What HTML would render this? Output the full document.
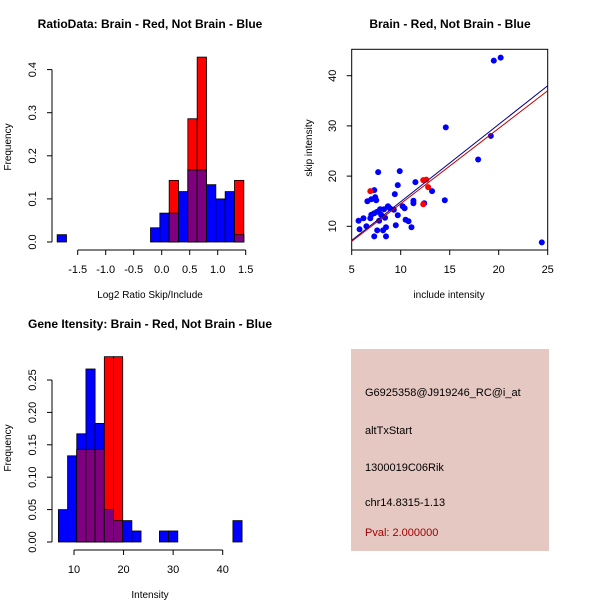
<!DOCTYPE html>
<html><head><meta charset="utf-8"><style>
html,body{margin:0;padding:0;background:#fff;}
svg{display:block;font-family:"Liberation Sans",sans-serif;}
</style></head><body>
<svg id="s" width="600" height="600" viewBox="0 0 600 600">
<rect x="0" y="0" width="600" height="600" fill="#fff"/>
<g id="p1"></g>
<g id="p2"></g>
<g id="p3"></g>
<g id="p4">
<rect x="351" y="349" width="198" height="202" fill="#e6c8c2"/>
<text x="365" y="396" font-size="11" fill="#000">G6925358@J919246_RC@i_at</text>
<text x="365" y="434" font-size="11" fill="#000">altTxStart</text>
<text x="365" y="471" font-size="11" fill="#000">1300019C06Rik</text>
<text x="365" y="506" font-size="11" fill="#000">chr14.8315-1.13</text>
<text x="365" y="536" font-size="11" fill="#a00000">Pval: 2.000000</text>
</g>
</svg>
<script>
// ---- Plot 1 data ----
const p1Start = -1.8667;
const p1Width = 1/6;
const p1Blue = [0.017,0,0,0,0,0,0,0,0,0,0.033,0.067,0.067,0.117,0.167,0.167,0.133,0.1,0.117,0.017];
const p1Red  = [0,0,0,0,0,0,0,0,0,0,0,0,0.143,0,0.286,0.429,0,0,0,0.143];
const p1XTicks = [-1.5,-1.0,-0.5,0.0,0.5,1.0,1.5];
const p1YTicks = [0.0,0.1,0.2,0.3,0.4];
// ---- Plot 2 data ----
const p2BlueX = [5.7,5.8,6.2,6.5,6.6,6.9,7.0,7.0,7.3,7.3,7.3,7.4,7.5,7.6,7.6,7.7,7.8,8.0,8.2,8.3,8.4,8.5,8.5,8.7,8.9,9.3,9.4,9.5,9.7,9.7,9.9,10.2,10.4,10.5,10.8,11.1,11.3,11.3,11.5,12.4,13.2,14.5,14.6,17.9,19.2,19.5,20.2,24.4,7.9];
const p2BlueY = [11.1,9.4,11.6,10,15,11.6,15.4,12.3,12.6,17.2,8,15.8,15.2,12.9,9.2,20.8,11.1,12.3,9.2,13.4,11.7,8,9.8,14,13.6,13.3,16.4,10.2,18.2,12.2,21,14,13.6,11.3,11,9.8,15.1,14.6,18.8,14.6,17,15.2,29.7,23.3,28,43,43.6,6.8,13.4];
const p2RedX = [6.9,12.3,12.6,12.8,12.3];
const p2RedY = [17,19.2,19.3,17.8,14.4];
const p2BlueFit = [5,7.2,25,38];
const p2RedFit = [5,7.0,25,37];
const p2XTicks = [5,10,15,20,25];
const p2YTicks = [10,20,30,40];
// ---- Plot 3 data ----
const p3Start = 6.85;
const p3Width = 1.853;
const p3Blue = [0.05,0.133,0.167,0.267,0.183,0.05,0.033,0.033,0.017,0,0,0.017,0.017,0,0,0,0,0,0,0.033];
const p3Red  = [0,0,0.143,0.143,0.143,0.286,0.286,0,0,0,0,0,0,0,0,0,0,0,0,0];
const p3XTicks = [10,20,30,40];
const p3YTicks = [0.00,0.05,0.10,0.15,0.20,0.25];

const NS='http://www.w3.org/2000/svg';
function mk(parent,tag,attrs){const e=document.createElementNS(NS,tag);for(const k in attrs)e.setAttribute(k,attrs[k]);parent.appendChild(e);return e;}
function txt(parent,x,y,s,size,extra){const t=mk(parent,'text',Object.assign({x:x,y:y,'font-size':size,'text-anchor':'middle'},extra||{}));t.textContent=s;return t;}

function hist(g,start,w,blue,red,sx,sy,y0){
  for(let i=0;i<blue.length;i++){
    const a=start+i*w,b=a+w,bv=blue[i],rv=red[i];
    if(bv>0){const r=mk(g,'rect',{x:sx(a),y:sy(bv),width:sx(b)-sx(a),height:y0-sy(bv),fill:'#0000ff',stroke:'#000','stroke-width':0.8});
      
      }
    if(rv>0){const r=mk(g,'rect',{x:sx(a),y:sy(rv),width:sx(b)-sx(a),height:y0-sy(rv),fill:'#ff0000',stroke:'#000','stroke-width':0.8});
      
      }
    const m=Math.min(bv,rv);
    if(m>0){const r=mk(g,'rect',{x:sx(a),y:sy(m),width:sx(b)-sx(a),height:y0-sy(m),fill:'#7f007f',stroke:'#000','stroke-width':0.8});
      
      }
  }
}
function yAxis(g,x,ticks,sy,fmt){
  mk(g,'line',{x1:x,x2:x,y1:sy(ticks[0]),y2:sy(ticks[ticks.length-1]),stroke:'#000'});
  ticks.forEach(v=>{mk(g,'line',{x1:x,x2:x-5,y1:sy(v),y2:sy(v),stroke:'#000'});
    const t=txt(g,x-16,sy(v),fmt(v),11,{transform:`rotate(-90 ${x-16} ${sy(v)})`});
    
    });
}
function xAxis(g,y,ticks,sx,fmt){
  mk(g,'line',{x1:sx(ticks[0]),x2:sx(ticks[ticks.length-1]),y1:y,y2:y,stroke:'#000'});
  ticks.forEach(v=>{mk(g,'line',{x1:sx(v),x2:sx(v),y1:y,y2:y+5,stroke:'#000'});
    const t=txt(g,sx(v),y+23,fmt(v),11);
    
    });
}

// Plot 1
(function(){
  const g=document.getElementById('p1');
  const sx=v=>161.7+v*56, sy=v=>242-v*431;
  hist(g,p1Start,p1Width,p1Blue,p1Red,sx,sy,242);
  yAxis(g,52,p1YTicks,sy,v=>v.toFixed(1));
  xAxis(g,250,p1XTicks,sx,v=>v.toFixed(1));
  let t=txt(g,150,28,'RatioData: Brain - Red, Not Brain - Blue',12,{'font-weight':'bold'});
  
  
  t=txt(g,150,298,'Log2 Ratio Skip/Include',10);
  
  
  t=txt(g,11,147,'Frequency',10,{transform:'rotate(-90 11 147)'});
  
  
})();

// Plot 2
(function(){
  const g=document.getElementById('p2');
  const sx=v=>351.7+(v-5)*9.8, sy=v=>226.3-(v-10)*5.02;
  const b=mk(g,'rect',{x:351.7,y:49.3,width:196,height:200.7,fill:'none',stroke:'#000'});
  
  
  p2BlueX.forEach((x,i)=>{const c=mk(g,'circle',{cx:sx(x),cy:sy(p2BlueY[i]),r:3,fill:'#0000ff'});
    
    });
  p2RedX.forEach((x,i)=>{const c=mk(g,'circle',{cx:sx(x),cy:sy(p2RedY[i]),r:3,fill:'#ff0000'});
    
    });
  let l=mk(g,'line',{x1:sx(p2BlueFit[0]),y1:sy(p2BlueFit[1]),x2:sx(p2BlueFit[2]),y2:sy(p2BlueFit[3]),stroke:'#00008b','stroke-width':1});
  
  
  l=mk(g,'line',{x1:sx(p2RedFit[0]),y1:sy(p2RedFit[1]),x2:sx(p2RedFit[2]),y2:sy(p2RedFit[3]),stroke:'#c00000','stroke-width':1});
  
  
  p2XTicks.forEach(v=>{mk(g,'line',{x1:sx(v),x2:sx(v),y1:250,y2:255,stroke:'#000'});
    const t=txt(g,sx(v),273,String(v),11);
    
    });
  p2YTicks.forEach(v=>{mk(g,'line',{x1:351.7,x2:346.7,y1:sy(v),y2:sy(v),stroke:'#000'});
    const t=txt(g,336,sy(v),String(v),11,{transform:`rotate(-90 336 ${sy(v)})`});
    
    });
  let t=txt(g,450,28,'Brain - Red, Not Brain - Blue',12,{'font-weight':'bold'});
  
  
  t=txt(g,449,298,'include intensity',10);
  
  
  t=txt(g,312,148,'skip intensity',10,{transform:'rotate(-90 312 148)'});
  
  
})();

// Plot 3
(function(){
  const g=document.getElementById('p3');
  const sx=v=>74+(v-10)*4.957, sy=v=>542-v*648;
  hist(g,p3Start,p3Width,p3Blue,p3Red,sx,sy,542);
  yAxis(g,52,p3YTicks,sy,v=>v.toFixed(2));
  xAxis(g,550,p3XTicks,sx,v=>String(v));
  let t=txt(g,150,328,'Gene Itensity: Brain - Red, Not Brain - Blue',12,{'font-weight':'bold'});
  
  
  t=txt(g,150,598,'Intensity',10);
  
  
  t=txt(g,11,448,'Frequency',10,{transform:'rotate(-90 11 448)'});
  
  
})();
</script>
</body></html>
